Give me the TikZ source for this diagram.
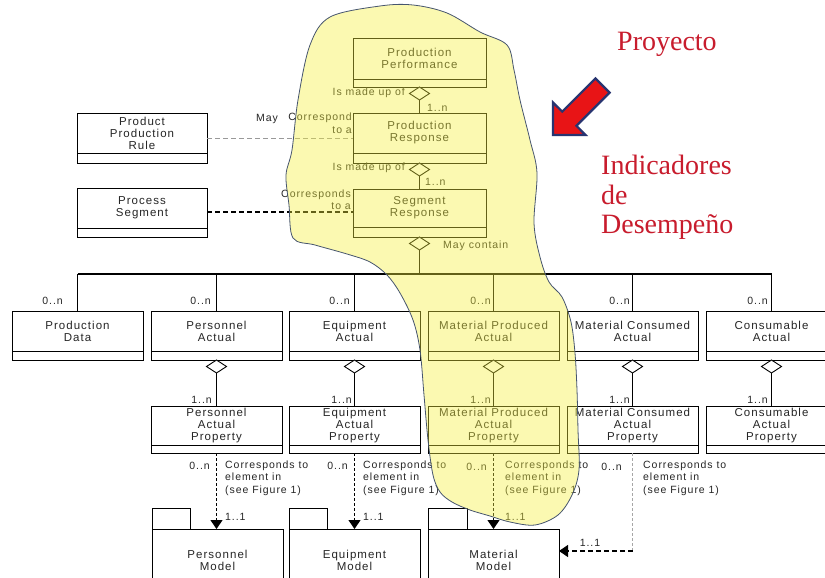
\documentclass[tikz,border=0pt]{standalone}
\usepackage{fontspec}
\setmainfont{Liberation Sans}
\newfontfamily\boxfont[LetterSpace=9]{Liberation Sans}
\newfontfamily\redfont{Liberation Serif}
\usetikzlibrary{shapes.geometric,arrows.meta}
\definecolor{txt}{RGB}{38,38,38}
\definecolor{redtxt}{RGB}{200,28,45}
\definecolor{arrred}{RGB}{232,20,22}
\definecolor{arrblue}{RGB}{40,52,112}
\definecolor{blobfill}{RGB}{245,240,60}
\definecolor{blobline}{RGB}{70,85,110}
\begin{document}
\begin{tikzpicture}[x=1pt,y=-1pt,
  cls/.style={draw=black, line width=0.9pt, minimum width=131pt, minimum height=40pt,
    inner sep=0pt, outer sep=0pt, align=center, text=txt, anchor=north west,
    font={\boxfont\fontsize{11.5}{12}\selectfont}},
  comp/.style={draw=black, line width=0.9pt, minimum width=131pt, minimum height=9pt,
    inner sep=0pt, outer sep=0pt, anchor=north},
  dia/.style={diamond, draw=black, line width=0.9pt, fill=white, minimum width=20pt,
    minimum height=13pt, inner sep=0pt, outer sep=0pt, anchor=north},
  model/.style={draw=black, line width=0.9pt, minimum width=131pt, minimum height=62pt,
    inner sep=0pt, outer sep=0pt, align=center, text=txt, anchor=north west,
    font={\boxfont\fontsize{11.5}{12}\selectfont}},
  tab/.style={draw=black, line width=0.9pt},
  conn/.style={draw=black, line width=1.4pt},
  lbl/.style={inner sep=0pt, text=txt, font={\boxfont\fontsize{10.5}{12.5}\selectfont}},
  dep/.style={draw=black, line width=1.1pt, dash pattern=on 3pt off 2pt,
    -{Triangle[width=12pt,length=9pt]}},
  dashgray/.style={draw=gray!80, line width=1pt, dash pattern=on 5pt off 3pt},
  dashblack/.style={draw=black, line width=1.4pt, dash pattern=on 5pt off 3pt},
  redlbl/.style={inner sep=0pt, text=redtxt, anchor=base west,
    font={\redfont\fontsize{28}{30}\selectfont}}
]
\clip (0,0) rectangle (825,578);
\fill[white] (0,0) rectangle (825,578);

% ---- top chain
\node[cls, minimum width=133pt, minimum height=41pt] (pp) at (353,38) {Production\\Performance};
\node[comp, minimum width=133pt, minimum height=8pt] (ppc) at (pp.south) {};
\node[dia] (d1) at (ppc.south) {};
\node[cls, minimum width=133pt, minimum height=40pt] (pr) at (353,113) {Production\\Response};
\node[comp, minimum width=133pt, minimum height=10pt] (prc) at (pr.south) {};
\node[dia] (d2) at (prc.south) {};
\node[cls, minimum width=133pt, minimum height=38pt] (sr) at (353,189) {Segment\\Response};
\node[comp, minimum width=133pt, minimum height=10pt] (src) at (sr.south) {};
\node[dia] (d3) at (src.south) {};
\draw[conn] (d1.south) -- (pr.north);
\draw[conn] (d2.south) -- (sr.north);

% ---- left boxes
\node[cls, minimum width=130pt] (ppr) at (77,113) {Product\\Production\\Rule};
\node[comp, minimum width=130pt, minimum height=10pt] (pprc) at (ppr.south) {};
\node[cls, minimum width=130pt] (ps) at (77,188) {Process\\Segment};
\node[comp, minimum width=130pt, minimum height=9pt] (psc) at (ps.south) {};
\draw[dashgray] ([yshift=-5pt]ppr.east) -- ([yshift=-5pt]ppr.east -| pr.west);
\draw[dashblack] ([yshift=-4pt]ps.east) -- ([yshift=-4pt]ps.east -| sr.west);

% ---- row 1
\node[cls] (pd) at (12,311) {Production\\Data};
\node[comp] (pdc) at (pd.south) {};
\node[cls] (pa) at (151,311) {Personnel\\Actual};
\node[comp] (pac) at (pa.south) {};
\node[cls] (ea) at (289,311) {Equipment\\Actual};
\node[comp] (eac) at (ea.south) {};
\node[cls] (mpa) at (428,311) {Material Produced\\Actual};
\node[comp] (mpac) at (mpa.south) {};
\node[cls] (mca) at (567,311) {Material Consumed\\Actual};
\node[comp] (mcac) at (mca.south) {};
\node[cls] (ca) at (706,311) {Consumable\\Actual};
\node[comp] (cac) at (ca.south) {};

% bus
\coordinate (busM) at (419.5,274);
\draw[conn] (d3.south) -- (busM);
\draw[conn] (pd.north |- busM) -- (ca.north |- busM);
\foreach \b in {pd,pa,ea,mpa,mca,ca}{\draw[conn] (\b.north |- busM) -- (\b.north);}

% ---- row 2
\node[dia] (dpa) at (pac.south) {};
\node[dia] (dea) at (eac.south) {};
\node[dia] (dmpa) at (mpac.south) {};
\node[dia] (dmca) at (mcac.south) {};
\node[dia] (dca) at (cac.south) {};
\node[cls, minimum height=39pt] (pap) at (151,406) {Personnel\\Actual\\Property};
\node[comp, minimum height=8pt] (papc) at (pap.south) {};
\node[cls, minimum height=39pt] (eap) at (289,406) {Equipment\\Actual\\Property};
\node[comp, minimum height=8pt] (eapc) at (eap.south) {};
\node[cls, minimum height=39pt] (mpap) at (428,406) {Material Produced\\Actual\\Property};
\node[comp, minimum height=8pt] (mpapc) at (mpap.south) {};
\node[cls, minimum height=39pt] (mcap) at (567,406) {Material Consumed\\Actual\\Property};
\node[comp, minimum height=8pt] (mcapc) at (mcap.south) {};
\node[cls, minimum height=39pt] (cap) at (706,406) {Consumable\\Actual\\Property};
\node[comp, minimum height=8pt] (capc) at (cap.south) {};
\draw[conn] (dpa.south) -- (pap.north);
\draw[conn] (dea.south) -- (eap.north);
\draw[conn] (dmpa.south) -- (mpap.north);
\draw[conn] (dmca.south) -- (mcap.north);
\draw[conn] (dca.south) -- (cap.north);

% ---- models
\node[model] (pm) at (152,529) {Personnel\\Model};
\draw[tab] (pm.north west) rectangle ++(38,-21);
\node[model] (em) at (289,529) {Equipment\\Model};
\draw[tab] (em.north west) rectangle ++(38,-21);
\node[model] (mm) at (428,529) {Material\\Model};
\draw[tab] (mm.north west) rectangle ++(39,-21);

\draw[dep] (papc.south) -- (papc.south |- pm.north);
\draw[dep] (eapc.south) -- (eapc.south |- em.north);
\draw[dep] (mpapc.south) -- (mpapc.south |- mm.north);
\coordinate (mcorner) at ([yshift=-98pt]mcapc.south);
\draw[draw=gray!70, line width=0.8pt, dash pattern=on 3pt off 2pt] (mcapc.south) -- (mcorner);
\draw[dep, dash pattern=on 5pt off 3pt] (mcorner) -- (mcorner -| mm.east);

% ---- labels
\node[lbl, anchor=east] (l1) at (405,93) {Is made up of};
\node[lbl, anchor=west] (l2) at (427,108) {1..n};
\node[lbl, anchor=west] (l3) at (256,119) {May};
\node[lbl, anchor=east] (l4) at (352,118) {Correspond};
\node[lbl, anchor=east] (l5) at (352,130) {to a};
\node[lbl, anchor=east] (l6) at (405,168) {Is made up of};
\node[lbl, anchor=west] (l7) at (425,182) {1..n};
\node[lbl, anchor=east] (l8) at (351,195) {Corresponds};
\node[lbl, anchor=east] (l9) at (351,206) {to a};
\node[lbl, anchor=west] (l10) at (443,246) {May contain};

\node[lbl, anchor=east] (z1) at (63,301) {0..n};
\node[lbl, anchor=east] (z2) at (211,301) {0..n};
\node[lbl, anchor=east] (z3) at (350,301) {0..n};
\node[lbl, anchor=east] (z4) at (491,301) {0..n};
\node[lbl, anchor=east] (z5) at (630,301) {0..n};
\node[lbl, anchor=east] (z6) at (768,301) {0..n};

\node[lbl, anchor=east] (o1) at (212,400) {1..n};
\node[lbl, anchor=east] (o2) at (352,400) {1..n};
\node[lbl, anchor=east] (o3) at (491,400) {1..n};
\node[lbl, anchor=east] (o4) at (630,400) {1..n};
\node[lbl, anchor=east] (o5) at (768,400) {1..n};

\node[lbl, anchor=east] (b1) at (210,466) {0..n};
\node[lbl, anchor=east] (b2) at (348,466) {0..n};
\node[lbl, anchor=east] (b3) at (487,467) {0..n};
\node[lbl, anchor=east] (b4) at (622,467) {0..n};
\node[lbl, anchor=west, align=left] (c1) at (225,478) {Corresponds to\\element in\\(see Figure 1)};
\node[lbl, anchor=west, align=left] (c2) at (363,478) {Corresponds to\\element in\\(see Figure 1)};
\node[lbl, anchor=west, align=left] (c3) at (505,478) {Corresponds to\\element in\\(see Figure 1)};
\node[lbl, anchor=west, align=left] (c4) at (643,478) {Corresponds to\\element in\\(see Figure 1)};

\node[lbl, anchor=west] (m1) at (225,517) {1..1};
\node[lbl, anchor=west] (m2) at (363,517) {1..1};
\node[lbl, anchor=west] (m3) at (505,517) {1..1};
\node[lbl] (m4) at (590,543) {1..1};

% ---- highlighted area
\draw[fill=blobfill, fill opacity=0.4, draw=blobline, line width=0.8pt]
  plot[smooth cycle, tension=0.55] coordinates {
  (330,17) (380,6) (413,5) (447,13) (480,32) (507,45) (514,70) (520,100)
  (530,140) (537,173) (534,223) (540,257) (549,282) (562,297) (571,322)
  (575,353) (577,390) (578,430) (579,470) (572,495) (558,515) (535,525)
  (510,522) (490,516) (470,510) (452,502) (440,492) (433,475) (428,440)
  (424,395) (420,350) (413,320) (400,293) (387,275) (370,262) (347,254)
  (315,245) (293,238) (289,205) (286,175) (292,150) (298,100) (310,45)};

% ---- red annotations
\node[redlbl] (proy) at (617,51) {Proyecto};
\node[redlbl] (ind1) at (601,174) {Indicadores};
\node[redlbl] (ind2) at (601,204) {de};
\node[redlbl] (ind3) at (601,233) {Desempeño};
\draw[fill=arrred, draw=arrblue, line width=2.2pt, line join=miter]
  (553,135) -- (553,102.5) -- (562.2,111.6) -- (595.4,78.4) -- (609.6,92.6)
  -- (576.4,125.8) -- (585.5,135) -- cycle;
\end{tikzpicture}
\end{document}
